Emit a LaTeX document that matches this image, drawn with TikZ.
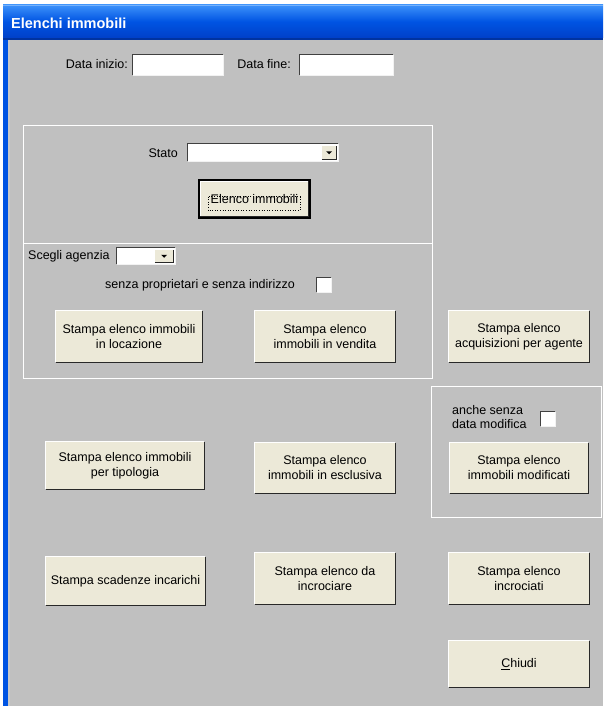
\documentclass[tikz,border=0pt]{standalone}
\usepackage{fontspec}
\setmainfont{Liberation Sans}
\definecolor{formgray}{RGB}{192,192,192}
\definecolor{btnface}{RGB}{236,233,216}
\definecolor{shadowc}{RGB}{40,40,40}
\definecolor{xpblue}{RGB}{0,84,227}
\definecolor{xpbluelight}{RGB}{60,145,250}
\definecolor{xpbluedark}{RGB}{0,64,200}
\definecolor{sunkdark}{RGB}{64,64,64}
\tikzset{
  xpbtn/.style={fill=btnface, inner sep=0pt, align=center, font=\fontsize{12.5}{15}\selectfont},
  lbl/.style={inner sep=0pt, font=\fontsize{12.5}{13.5}\selectfont},
  whitebox/.style={fill=white, inner sep=0pt},
  groupline/.style={draw=white, line width=1pt},
}
\newcommand{\xpbutton}[6]{%
  \node[xpbtn, minimum width={(#4)-(#2)}, minimum height={(#5)-(#3)}] (#1) at ({((#2)+(#4))/2},{-((#3)+(#5))/2}) {#6};
  \draw[white, line width=1pt] (#1.south west) -- (#1.north west) -- (#1.north east);
  \draw[shadowc, line width=1.4pt] (#1.south west) -- (#1.south east) -- (#1.north east);
}
\newcommand{\sunkbox}[5]{%
  \node[whitebox, minimum width={(#4)-(#2)}, minimum height={(#5)-(#3)}] (#1) at ({((#2)+(#4))/2},{-((#3)+(#5))/2}) {};
  \draw[sunkdark, line width=1.3pt] (#1.south west) -- (#1.north west) -- (#1.north east);
  \draw[white!90!gray, line width=1pt] (#1.south west) -- (#1.south east) -- (#1.north east);
}
\newcommand{\combobtn}[5]{%
  \node[fill=btnface, inner sep=0pt, minimum width={(#4)-(#2)}, minimum height={(#5)-(#3)}] (#1) at ({((#2)+(#4))/2},{-((#3)+(#5))/2}) {};
  \draw[white, line width=0.8pt] (#1.south west) -- (#1.north west) -- (#1.north east);
  \draw[shadowc, line width=1pt] (#1.south west) -- (#1.south east) -- (#1.north east);
  \fill[black] ([xshift=-3pt,yshift=1.5pt]#1.center) -- ([xshift=3pt,yshift=1.5pt]#1.center) -- ([yshift=-1.5pt]#1.center) -- cycle;
}
\begin{document}
\begin{tikzpicture}[x=1pt,y=1pt]
\useasboundingbox (0,0) rectangle (603,-706);
% window background
\fill[white] (0,0) rectangle (603,-706);
\fill[formgray] (3,-38) rectangle (603,-706);
\fill[xpblue] (3,-38) rectangle (7.5,-706);
\fill[formgray!85!white] (7.5,-38) rectangle (10,-706);
% title bar
\shade[top color=xpbluelight, bottom color=xpbluedark, middle color=xpblue] (3,-5) rectangle (603,-38);
\fill[xpbluelight!70!white] (3,-5) rectangle (603,-6.5);
\fill[xpbluedark!80!black] (3,-38) rectangle (603,-40);
\node[anchor=west, inner sep=0pt, text=white, font=\fontsize{14.5}{16}\selectfont\bfseries] (title) at (11,-23) {Elenchi immobili};

% dates
\node[lbl, anchor=east] (lblDi) at (128,-64) {Data inizio:};
\sunkbox{tbDi}{133}{55}{223}{75}
\node[lbl, anchor=east] (lblDf) at (291,-64) {Data fine:};
\sunkbox{tbDf}{300}{55}{393}{75}

% group boxes
\draw[groupline] (23,-125) rectangle (432,-243);
\draw[groupline] (23,-243) rectangle (432,-378);
\draw[groupline] (431,-386) rectangle (601,-517);

% Stato
\node[lbl, anchor=east] (lblStato) at (178,-153) {Stato};
\sunkbox{cbStato}{188}{144}{338}{161}
\combobtn{cbStatoBtn}{322}{146}{336}{159.5}

% Elenco immobili default button
\node[xpbtn, minimum width=111, minimum height=38] (btnElenco) at (254.5,-199) {Elenco immobili};
\draw[white, line width=1pt] ([shift={(1.5,1.5)}]btnElenco.south west) -- ([shift={(1.5,-1.5)}]btnElenco.north west) -- ([shift={(-1.5,-1.5)}]btnElenco.north east);
\draw[black, line width=1.5pt] (btnElenco.south west) rectangle (btnElenco.north east);
\draw[shadowc, line width=1.4pt] ([shift={(1.5,2)}]btnElenco.south west) -- ([shift={(-2,2)}]btnElenco.south east) -- ([shift={(-2,-1.5)}]btnElenco.north east);
\draw[black, dotted, line width=0.6pt] (208,-196.5) rectangle (300,-210.5);

% agenzia
\node[lbl, anchor=west] (lblAg) at (28,-256) {Scegli agenzia};
\sunkbox{cbAg}{117}{248}{175}{264}
\combobtn{cbAgBtn}{155}{250}{173}{262.5}
\node[lbl, anchor=west] (lblSenza) at (105,-285) {senza proprietari e senza indirizzo};
\sunkbox{chkSenza}{317}{278}{331}{292}

% buttons
\xpbutton{btnLoc}{56}{311}{202}{362}{Stampa elenco immobili\\in locazione}
\xpbutton{btnVen}{255}{311}{395}{362}{Stampa elenco\\immobili in vendita}
\xpbutton{btnAcq}{449}{311}{589}{362}{Stampa elenco\\acquisizioni per agente}

% group 3
\node[lbl, anchor=west, align=left] (lblAnche) at (452,-417) {anche senza\\data modifica};
\sunkbox{chkAnche}{541}{412}{555}{426}
\xpbutton{btnMod}{450}{443}{588}{493}{Stampa elenco\\immobili modificati}

\xpbutton{btnTip}{46}{442}{204}{489}{Stampa elenco immobili\\per tipologia}
\xpbutton{btnEsc}{255}{443}{395}{493}{Stampa elenco\\immobili in esclusiva}

\xpbutton{btnScad}{46}{557}{205}{605}{Stampa scadenze incarichi}
\xpbutton{btnDaInc}{255}{553}{395}{604}{Stampa elenco da\\incrociare}
\xpbutton{btnInc}{449}{553}{589}{604}{Stampa elenco\\incrociati}
\xpbutton{btnChiudi}{449}{641}{589}{687}{\underline{C}hiudi}
\end{tikzpicture}
\end{document}
